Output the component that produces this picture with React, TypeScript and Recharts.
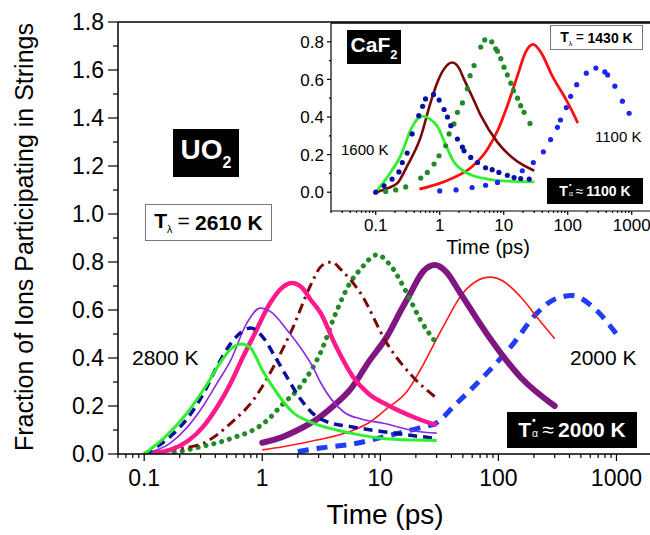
import React from 'react';
import { LineChart, Line, XAxis, YAxis, ReferenceLine } from 'recharts';

type Pt = { t: number; v: number };
const pts = (rows: number[][]): Pt[] => rows.map(([t, v]) => ({ t, v }));

// UO2 string fractions vs time (ps), one curve per temperature
const uo2Green = pts([[0.1, 0], [0.15, 0.07], [0.23, 0.17], [0.33, 0.28], [0.44, 0.38], [0.55, 0.44], [0.67, 0.458], [0.8, 0.44], [1.0, 0.35], [1.35, 0.25], [1.8, 0.175], [2.5, 0.135], [3.1, 0.118], [5.6, 0.087], [10.6, 0.065], [20, 0.058], [30, 0.056]]);
const uo2Navy = pts([[0.1, 0], [0.166, 0.072], [0.25, 0.17], [0.316, 0.25], [0.42, 0.37], [0.54, 0.46], [0.7, 0.515], [0.8, 0.525], [1.0, 0.49], [1.3, 0.4], [1.62, 0.32], [2.1, 0.23], [2.9, 0.155], [3.5, 0.135], [5.6, 0.114], [10.6, 0.093], [20, 0.075], [30, 0.065]]);
const uo2Violet = pts([[0.1, 0], [0.166, 0.045], [0.23, 0.11], [0.316, 0.2], [0.42, 0.3], [0.54, 0.39], [0.74, 0.545], [0.96, 0.608], [1.2, 0.59], [1.62, 0.517], [2.2, 0.43], [2.7, 0.36], [3.1, 0.3], [4.9, 0.175], [7, 0.145], [10.6, 0.128], [20, 0.095], [30, 0.087]]);
const uo2Pink = pts([[0.1, 0], [0.166, 0.017], [0.316, 0.114], [0.42, 0.2], [0.54, 0.295], [0.68, 0.4], [0.84, 0.49], [1.17, 0.63], [1.45, 0.69], [1.78, 0.712], [2.2, 0.69], [2.55, 0.645], [3.1, 0.59], [4.2, 0.45], [5.9, 0.32], [8, 0.25], [11.4, 0.205], [20, 0.15], [30, 0.12]]);
const uo2Maroon = pts([[0.1, 0], [0.166, 0.017], [0.316, 0.045], [0.54, 0.128], [0.84, 0.225], [1.33, 0.39], [1.83, 0.53], [2.55, 0.7], [3.2, 0.785], [3.9, 0.8], [4.6, 0.77], [6.8, 0.67], [11.4, 0.46], [19, 0.32], [30, 0.233]]);
const uo2GreenDots = pts([[0.18, 0.005], [0.3, 0.03], [0.44, 0.05], [0.6, 0.072], [0.84, 0.1], [1.1, 0.14], [1.42, 0.197], [2.2, 0.295], [3.1, 0.42], [4.3, 0.6], [5.5, 0.71], [6.8, 0.77], [9.4, 0.83], [12, 0.79], [16.8, 0.67], [21.8, 0.56], [30, 0.46]]);
const uo2Purple = pts([[1.0, 0.047], [1.5, 0.072], [2.0, 0.1], [2.9, 0.145], [4.0, 0.2], [5.6, 0.27], [8, 0.385], [11.4, 0.49], [15, 0.6], [18, 0.67], [23, 0.76], [29, 0.787], [36, 0.76], [47.6, 0.67], [80, 0.5], [154, 0.32], [300, 0.2]]);
const uo2Red = pts([[1.0, 0.017], [1.5, 0.03], [2.9, 0.058], [5.6, 0.095], [8, 0.13], [11.4, 0.19], [16.8, 0.26], [21.8, 0.35], [34, 0.53], [50, 0.67], [65, 0.72], [85, 0.737], [110, 0.72], [154, 0.655], [220, 0.56], [300, 0.48]]);
const uo2Blue = pts([[2.0, 0.01], [3.1, 0.025], [5.6, 0.04], [11.4, 0.075], [21.8, 0.11], [30, 0.13], [41.5, 0.197], [80, 0.337], [134, 0.46], [212, 0.587], [300, 0.645], [420, 0.66], [640, 0.61], [1000, 0.5]]);

// CaF2 inset
const cafGreen = pts([[0.1, 0], [0.17, 0.105], [0.25, 0.2], [0.35, 0.33], [0.45, 0.39], [0.57, 0.405], [0.7, 0.39], [0.92, 0.35], [1.32, 0.23], [1.67, 0.16], [2.4, 0.11], [3.5, 0.085], [5.6, 0.07], [10, 0.06], [30, 0.055]]);
const cafMaroon = pts([[0.1, 0], [0.15, 0.02], [0.22, 0.05], [0.31, 0.14], [0.5, 0.29], [0.72, 0.478], [0.92, 0.585], [1.17, 0.656], [1.58, 0.69], [2.0, 0.66], [2.4, 0.6], [3.3, 0.5], [4.4, 0.407], [8, 0.265], [14.5, 0.176], [30, 0.114]]);
const cafRed = pts([[0.48, 0.016], [0.92, 0.043], [1.67, 0.078], [3.05, 0.13], [5.6, 0.23], [8, 0.327], [11.4, 0.46], [16.4, 0.62], [22, 0.745], [28.7, 0.786], [37.9, 0.745], [57, 0.62], [98.6, 0.48], [144, 0.368]]);
const cafGreenDots = pts([[0.143, 0.004], [0.205, 0.012], [0.294, 0.028], [0.505, 0.075], [0.64, 0.105], [0.815, 0.15], [0.975, 0.194], [1.24, 0.247], [1.4, 0.31], [1.67, 0.363], [1.89, 0.425], [2.26, 0.475], [2.7, 0.55], [2.98, 0.62], [3.44, 0.674], [4.37, 0.772], [5.05, 0.81], [6.5, 0.8], [7.5, 0.763], [8.0, 0.75], [9.0, 0.71], [10.1, 0.665], [11.4, 0.624], [12.9, 0.58], [14.2, 0.54], [16.4, 0.5], [18.4, 0.46], [20.8, 0.425], [25.7, 0.366]]);
const cafNavyDots = pts([[0.1, 0], [0.135, 0.034], [0.18, 0.07], [0.23, 0.108], [0.26, 0.158], [0.31, 0.208], [0.37, 0.31], [0.47, 0.407], [0.54, 0.457], [0.6, 0.496], [0.8, 0.52], [0.98, 0.49], [1.17, 0.44], [1.32, 0.4], [1.49, 0.354], [1.89, 0.283], [2.26, 0.24], [2.4, 0.22], [3.05, 0.185], [3.9, 0.158], [5.2, 0.13], [6.6, 0.12], [8.4, 0.105], [11.4, 0.09], [14.5, 0.078], [18.4, 0.073], [25, 0.07]]);
const cafBlueDots = pts([[1.0, 0.007], [1.8, 0.012], [3.2, 0.025], [5.2, 0.037], [8, 0.052], [19.5, 0.114], [29, 0.158], [41.6, 0.215], [54, 0.28], [69, 0.345], [77, 0.384], [95, 0.45], [111, 0.51], [138, 0.572], [195, 0.633], [275, 0.66], [380, 0.64], [420, 0.624], [545, 0.564], [715, 0.484], [910, 0.42]]);

const mainXDomain = [0.06, 2000];
const insetXDomain = [0.02, 2000];
const decadeLabels = [0.1, 1, 10, 100, 1000];
const mainYTicks = [0, 0.1, 0.2, 0.3, 0.4, 0.5, 0.6, 0.7, 0.8, 0.9, 1.0, 1.1, 1.2, 1.3, 1.4, 1.5, 1.6, 1.7, 1.8];
const insetYTicks = [0, 0.1, 0.2, 0.3, 0.4, 0.5, 0.6, 0.7, 0.8];

const logTicks = (lo: number, hi: number) => {
  const out: number[] = [];
  for (let e = -2; e <= 3; e++) {
    for (let m = 1; m <= 9; m++) {
      const v = +(m * Math.pow(10, e)).toPrecision(3);
      if (v >= lo - 1e-9 && v <= hi + 1e-9) out.push(v);
    }
  }
  return out;
};

const isDecade = (v: number) => decadeLabels.some((d) => Math.abs(d - v) < d * 1e-6);
const isEvenTenth = (v: number) => Math.round(v * 10) % 2 === 0;

const FONT = 'Arial, "Liberation Sans", sans-serif';

const makeXTick = (major: number, minor: number, fontSize: number, offset: number) => (props: any) => {
  const { x, y, payload } = props;
  const big = isDecade(payload.value);
  return (
    <g>
      <line x1={x} x2={x} y1={y} y2={y + (big ? major : minor)} stroke="#000" strokeWidth={1.2} />
      {big && (
        <text x={x} y={y + offset} textAnchor="middle" fontSize={fontSize} fontFamily={FONT} fill="#000">
          {String(payload.value)}
        </text>
      )}
    </g>
  );
};

const makeYTick = (major: number, minor: number, fontSize: number, gap: number) => (props: any) => {
  const { x, y, payload } = props;
  const big = isEvenTenth(payload.value);
  return (
    <g>
      <line x1={x - (big ? major : minor)} x2={x} y1={y} y2={y} stroke="#000" strokeWidth={1.2} />
      {big && (
        <text x={x - gap} y={y} dy="0.36em" textAnchor="end" fontSize={fontSize} fontFamily={FONT} fill="#000">
          {payload.value.toFixed(1)}
        </text>
      )}
    </g>
  );
};

const MainXTick = makeXTick(7, 4, 23, 32);
const MainYTick = makeYTick(10, 5, 23, 14);
const InsetXTick = makeXTick(4, 2, 17, 20);
const InsetYTick = makeYTick(4, 2, 17, 7);

const abs = (left: number, top: number, extra: React.CSSProperties = {}): React.CSSProperties => ({
  position: 'absolute',
  left,
  top,
  fontFamily: FONT,
  whiteSpace: 'nowrap',
  ...extra,
});

const blackBox = (left: number, top: number, w: number, h: number, fontSize: number): React.CSSProperties =>
  abs(left, top, {
    width: w,
    height: h,
    background: '#000',
    color: '#fff',
    fontWeight: 700,
    fontSize,
    display: 'flex',
    alignItems: 'center',
    justifyContent: 'center',
  });

const whiteBox = (left: number, top: number, w: number, h: number, fontSize: number): React.CSSProperties =>
  abs(left, top, {
    width: w,
    height: h,
    boxSizing: 'border-box',
    background: '#fff',
    border: '1px solid #777',
    color: '#000',
    fontSize,
    display: 'flex',
    alignItems: 'center',
    justifyContent: 'center',
  });

const TLambda = ({ size }: { size: number }) => (
  <span>
    <b>T</b>
    <sub style={{ fontSize: size * 0.5, verticalAlign: 'sub' }}>λ</sub>
    <span style={{ margin: `0 ${size * 0.25}px` }}>=</span>
  </span>
);

const TAlpha = ({ size }: { size: number }) => (
  <span style={{ display: 'inline-flex', alignItems: 'center' }}>
    <span>T</span>
    <span style={{ display: 'inline-flex', flexDirection: 'column', fontSize: size * 0.5, lineHeight: 1, marginLeft: 1 }}>
      <span style={{ marginTop: -size * 0.3 }}>•</span>
      <span style={{ marginTop: size * 0.1, fontWeight: 400 }}>α</span>
    </span>
    <span style={{ margin: `0 ${size * 0.2}px`, fontWeight: 400 }}>≈</span>
  </span>
);

export default function App() {
  const mainX = logTicks(mainXDomain[0], mainXDomain[1]);
  const insetX = logTicks(insetXDomain[0], insetXDomain[1]);
  const line = { isAnimationActive: false, dot: false, activeDot: false, dataKey: 'v', type: 'monotone' as const };
  const dots = (color: string) => ({
    isAnimationActive: false,
    dataKey: 'v',
    stroke: 'none',
    activeDot: false,
    dot: { r: 2.6, fill: color, stroke: 'none' },
  });

  return (
    <div style={{ position: 'fixed', left: 0, top: 0, width: 650, height: 535, overflow: 'hidden', background: '#fff' }}>
      <div style={{ position: 'absolute', left: 0, top: 0 }}>
        <LineChart width={660} height={535} margin={{ top: 22, right: 8, bottom: 0, left: 0 }}>
          <XAxis
            type="number"
            dataKey="t"
            scale="log"
            domain={mainXDomain}
            allowDataOverflow
            ticks={mainX}
            interval={0}
            height={81}
            tickLine={false}
            tickSize={0}
            tickMargin={0}
            tick={MainXTick}
            axisLine={{ stroke: '#000', strokeWidth: 1.5 }}
          />
          <YAxis
            type="number"
            domain={[0, 1.8]}
            allowDataOverflow
            ticks={mainYTicks}
            interval={0}
            width={118}
            tickLine={false}
            tickSize={0}
            tickMargin={0}
            tick={MainYTick}
            axisLine={{ stroke: '#000', strokeWidth: 1.5 }}
          />
          <ReferenceLine y={1.8} stroke="#000" strokeWidth={1.5} />
          <Line {...line} data={uo2Blue} stroke="#1f3df5" strokeWidth={5} strokeDasharray="11 8" />
          <Line {...line} data={uo2Red} stroke="#ff1a1a" strokeWidth={1.6} />
          <Line {...line} data={uo2Purple} stroke="#80167f" strokeWidth={6} strokeLinecap="round" />
          <Line {...line} data={uo2GreenDots} stroke="#1f8a26" strokeWidth={5} strokeDasharray="0.1 8" strokeLinecap="round" />
          <Line {...line} data={uo2Maroon} stroke="#7d0a0a" strokeWidth={3} strokeDasharray="10 5 2.5 5" />
          <Line {...line} data={uo2Pink} stroke="#ff1a8c" strokeWidth={4.5} />
          <Line {...line} data={uo2Violet} stroke="#8a2be2" strokeWidth={1.6} />
          <Line {...line} data={uo2Navy} stroke="#0a0f9c" strokeWidth={3.5} strokeDasharray="9 6" />
          <Line {...line} data={uo2Green} stroke="#2ff02f" strokeWidth={3} />
        </LineChart>
      </div>

      <div style={{ position: 'absolute', left: 290, top: 0 }}>
        <LineChart width={361} height={260} margin={{ top: 23, right: 0, bottom: 0, left: 0 }}>
          <XAxis
            type="number"
            dataKey="t"
            scale="log"
            domain={insetXDomain}
            allowDataOverflow
            ticks={insetX}
            interval={0}
            height={49}
            tickLine={false}
            tickSize={0}
            tickMargin={0}
            tick={InsetXTick}
            axisLine={{ stroke: '#000', strokeWidth: 1.2 }}
          />
          <YAxis
            type="number"
            domain={[-0.1, 0.9]}
            allowDataOverflow
            ticks={insetYTicks}
            interval={0}
            width={41}
            tickLine={false}
            tickSize={0}
            tickMargin={0}
            tick={InsetYTick}
            axisLine={{ stroke: '#000', strokeWidth: 1.2 }}
          />
          <ReferenceLine y={0.9} stroke="#000" strokeWidth={1.5} />
          <Line {...dots('#1c24f0')} data={cafBlueDots} />
          <Line {...line} data={cafRed} stroke="#ff1010" strokeWidth={2.8} />
          <Line {...dots('#1f8a26')} data={cafGreenDots} />
          <Line {...line} data={cafMaroon} stroke="#7a0808" strokeWidth={2.6} />
          <Line {...dots('#0a0fa8')} data={cafNavyDots} />
          <Line {...line} data={cafGreen} stroke="#2ff02f" strokeWidth={2.8} />
        </LineChart>
      </div>

      {/* axis titles */}
      <div style={abs(24, 237, { fontSize: 25, transform: 'translate(-50%, -50%) rotate(-90deg)' })}>
        Fraction of Ions Participating in Strings
      </div>
      <div style={abs(385, 515, { fontSize: 28, transform: 'translate(-50%, -50%)' })}>Time (ps)</div>
      <div style={abs(488, 247, { fontSize: 20, lineHeight: '18px', transform: 'translate(-50%, -50%)' })}>Time (ps)</div>

      {/* UO2 annotations */}
      <div style={blackBox(173, 129, 66, 48, 28)}>
        <span>
          UO<sub style={{ fontSize: 16, verticalAlign: -9 }}>2</sub>
        </span>
      </div>
      <div style={whiteBox(145, 204, 127, 37, 21)}>
        <TLambda size={21} />
        <b>2610 K</b>
      </div>
      <div style={abs(132, 358, { fontSize: 21, transform: 'translateY(-50%)' })}>2800 K</div>
      <div style={abs(570, 358, { fontSize: 21, transform: 'translateY(-50%)' })}>2000 K</div>
      <div style={blackBox(507, 412, 130, 36, 21)}>
        <TAlpha size={21} />
        2000 K
      </div>

      {/* CaF2 annotations */}
      <div style={blackBox(347, 30, 54, 34, 21)}>
        <span>
          CaF<sub style={{ fontSize: 13, verticalAlign: -7 }}>2</sub>
        </span>
      </div>
      <div style={whiteBox(550, 25, 93, 25, 14)}>
        <TLambda size={14} />
        <b>1430 K</b>
      </div>
      <div style={abs(341, 149, { fontSize: 15, transform: 'translateY(-50%)' })}>1600 K</div>
      <div style={abs(595, 136, { fontSize: 15, transform: 'translateY(-50%)' })}>1100 K</div>
      <div style={blackBox(547, 178, 96, 26, 14)}>
        <TAlpha size={14} />
        1100 K
      </div>
    </div>
  );
}
